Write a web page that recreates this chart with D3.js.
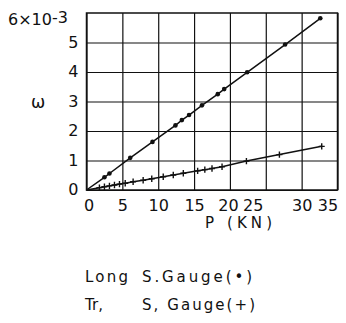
<!DOCTYPE html>
<html>
<head>
<meta charset="utf-8">
<script src="https://cdn.jsdelivr.net/npm/d3@7"></script>
<style>
  html, body { margin: 0; padding: 0; background: #fff; }
  svg { display: block; }
  text { font-family: "DejaVu Sans", "Liberation Sans", sans-serif; fill: #111; }
</style>
</head>
<body>
<svg id="chart" width="346" height="323"></svg>
<script>
// Longitudinal strain gauge readings: load P (kN) vs strain ω (×10^-3)
const longLoad   = [0, 2.5, 3.2, 6.1, 9.2, 12.4, 13.3, 14.3, 16.1, 18.3, 19.2, 22.4, 27.7, 32.6];
const longStrain = [0, 0.43, 0.56, 1.09, 1.63, 2.19, 2.37, 2.54, 2.87, 3.25, 3.42, 3.99, 4.93, 5.82];

// Transverse strain gauge readings
const trLoad   = [0, 1.8, 2.5, 3.2, 3.9, 4.6, 5.4, 6.5, 7.9, 9.1, 10.7, 12.1, 13.5, 15.5, 16.5, 17.5, 18.9, 22.3, 26.9, 32.8];
const trStrain = [0, 0.08, 0.11, 0.14, 0.17, 0.2, 0.23, 0.28, 0.33, 0.38, 0.45, 0.51, 0.57, 0.65, 0.69, 0.73, 0.79, 0.98, 1.2, 1.48];

// Tick values
const xTicks = [0, 5, 10, 15, 20, 25, 30, 35];
const yTicks = [0, 1, 2, 3, 4, 5];
const yTopLabel = "6×10";
const yTopExp = "-3";

// Legend entries
const legendNames = ["Long", "Tr,"];
const legendTexts = ["S.Gauge(\u2022)", "S, Gauge(+)"];

const svg = d3.select("#chart");
const x = d3.scaleLinear().domain([0, 35]).range([86.5, 337.5]);
const y = d3.scaleLinear().domain([0, 6]).range([190, 13]);
const plotH = y(0) - y(6);
const plotW = x(35) - x(0);

// Small nudges for crowded x tick labels
const xLabelShift = { 0: 2, 20: -2, 25: -13, 35: -10 };

// Vertical grid lines + bottom tick labels
const gx = svg.append("g")
  .attr("transform", `translate(0,${y(0)})`)
  .call(d3.axisBottom(x).tickValues(xTicks).tickSize(-plotH).tickPadding(10).tickSizeOuter(0));
gx.select(".domain").remove();
gx.selectAll("line").attr("stroke", "#111").attr("stroke-width", 1.2);
gx.selectAll("text")
  .attr("font-size", 16)
  .attr("dx", d => xLabelShift[d] || 0);

// Horizontal grid lines + left tick labels
const gy = svg.append("g")
  .attr("transform", `translate(${x(0)},0)`)
  .call(d3.axisLeft(y).tickValues(yTicks).tickSize(-plotW).tickPadding(8).tickSizeOuter(0).tickFormat(d3.format("d")));
gy.select(".domain").remove();
gy.selectAll("line").attr("stroke", "#111").attr("stroke-width", 1.2);
gy.selectAll("text").attr("font-size", 16).attr("dy", "0.3em");

// Frame
svg.append("rect")
  .attr("x", x(0)).attr("y", y(6))
  .attr("width", plotW).attr("height", plotH)
  .attr("fill", "none").attr("stroke", "#111").attr("stroke-width", 1.5);

// Top y label with exponent
const topLab = svg.append("text").attr("x", 8).attr("y", 25).attr("font-size", 16);
topLab.append("tspan").text(yTopLabel);
topLab.append("tspan").attr("dy", -2).attr("font-size", 16).text(yTopExp);

// y axis symbol
svg.append("text").attr("x", 31).attr("y", 108).attr("font-size", 17).text("ω");

// x axis title
svg.append("text").attr("x", 205).attr("y", 228).attr("font-size", 15)
  .attr("textLength", 67).attr("lengthAdjust", "spacing").text("P (KN)");

// Series lines
const longPts = longLoad.map((d, i) => [d, longStrain[i]]);
const trPts = trLoad.map((d, i) => [d, trStrain[i]]);
const line = d3.line().x(d => x(d[0])).y(d => y(d[1]));

svg.append("path").datum(longPts).attr("d", line)
  .attr("fill", "none").attr("stroke", "#111").attr("stroke-width", 1.5);
svg.append("path").datum(trPts).attr("d", line)
  .attr("fill", "none").attr("stroke", "#111").attr("stroke-width", 1.5);

// Markers: dots for longitudinal gauge, crosses for transverse gauge
svg.append("g").selectAll("circle").data(longPts.slice(1)).join("circle")
  .attr("cx", d => x(d[0])).attr("cy", d => y(d[1])).attr("r", 2.3).attr("fill", "#111");
svg.append("g").selectAll("path").data(trPts.slice(1)).join("path")
  .attr("transform", d => `translate(${x(d[0])},${y(d[1])})`)
  .attr("d", "M-3,0H3M0,-3.2V3.2")
  .attr("stroke", "#111").attr("stroke-width", 1.4);

// Legend
const legend = svg.append("g");
const lenNames = [43, 18];
const lenTexts = [110, 113];
legendNames.forEach((n, i) => {
  const by = 282 + i * 28;
  legend.append("text").attr("x", 85).attr("y", by).attr("font-size", 15)
    .attr("textLength", lenNames[i]).attr("lengthAdjust", "spacing").text(n);
  legend.append("text").attr("x", 142).attr("y", by).attr("font-size", 15)
    .attr("textLength", lenTexts[i]).attr("lengthAdjust", "spacing").text(legendTexts[i]);
});
</script>
</body>
</html>
